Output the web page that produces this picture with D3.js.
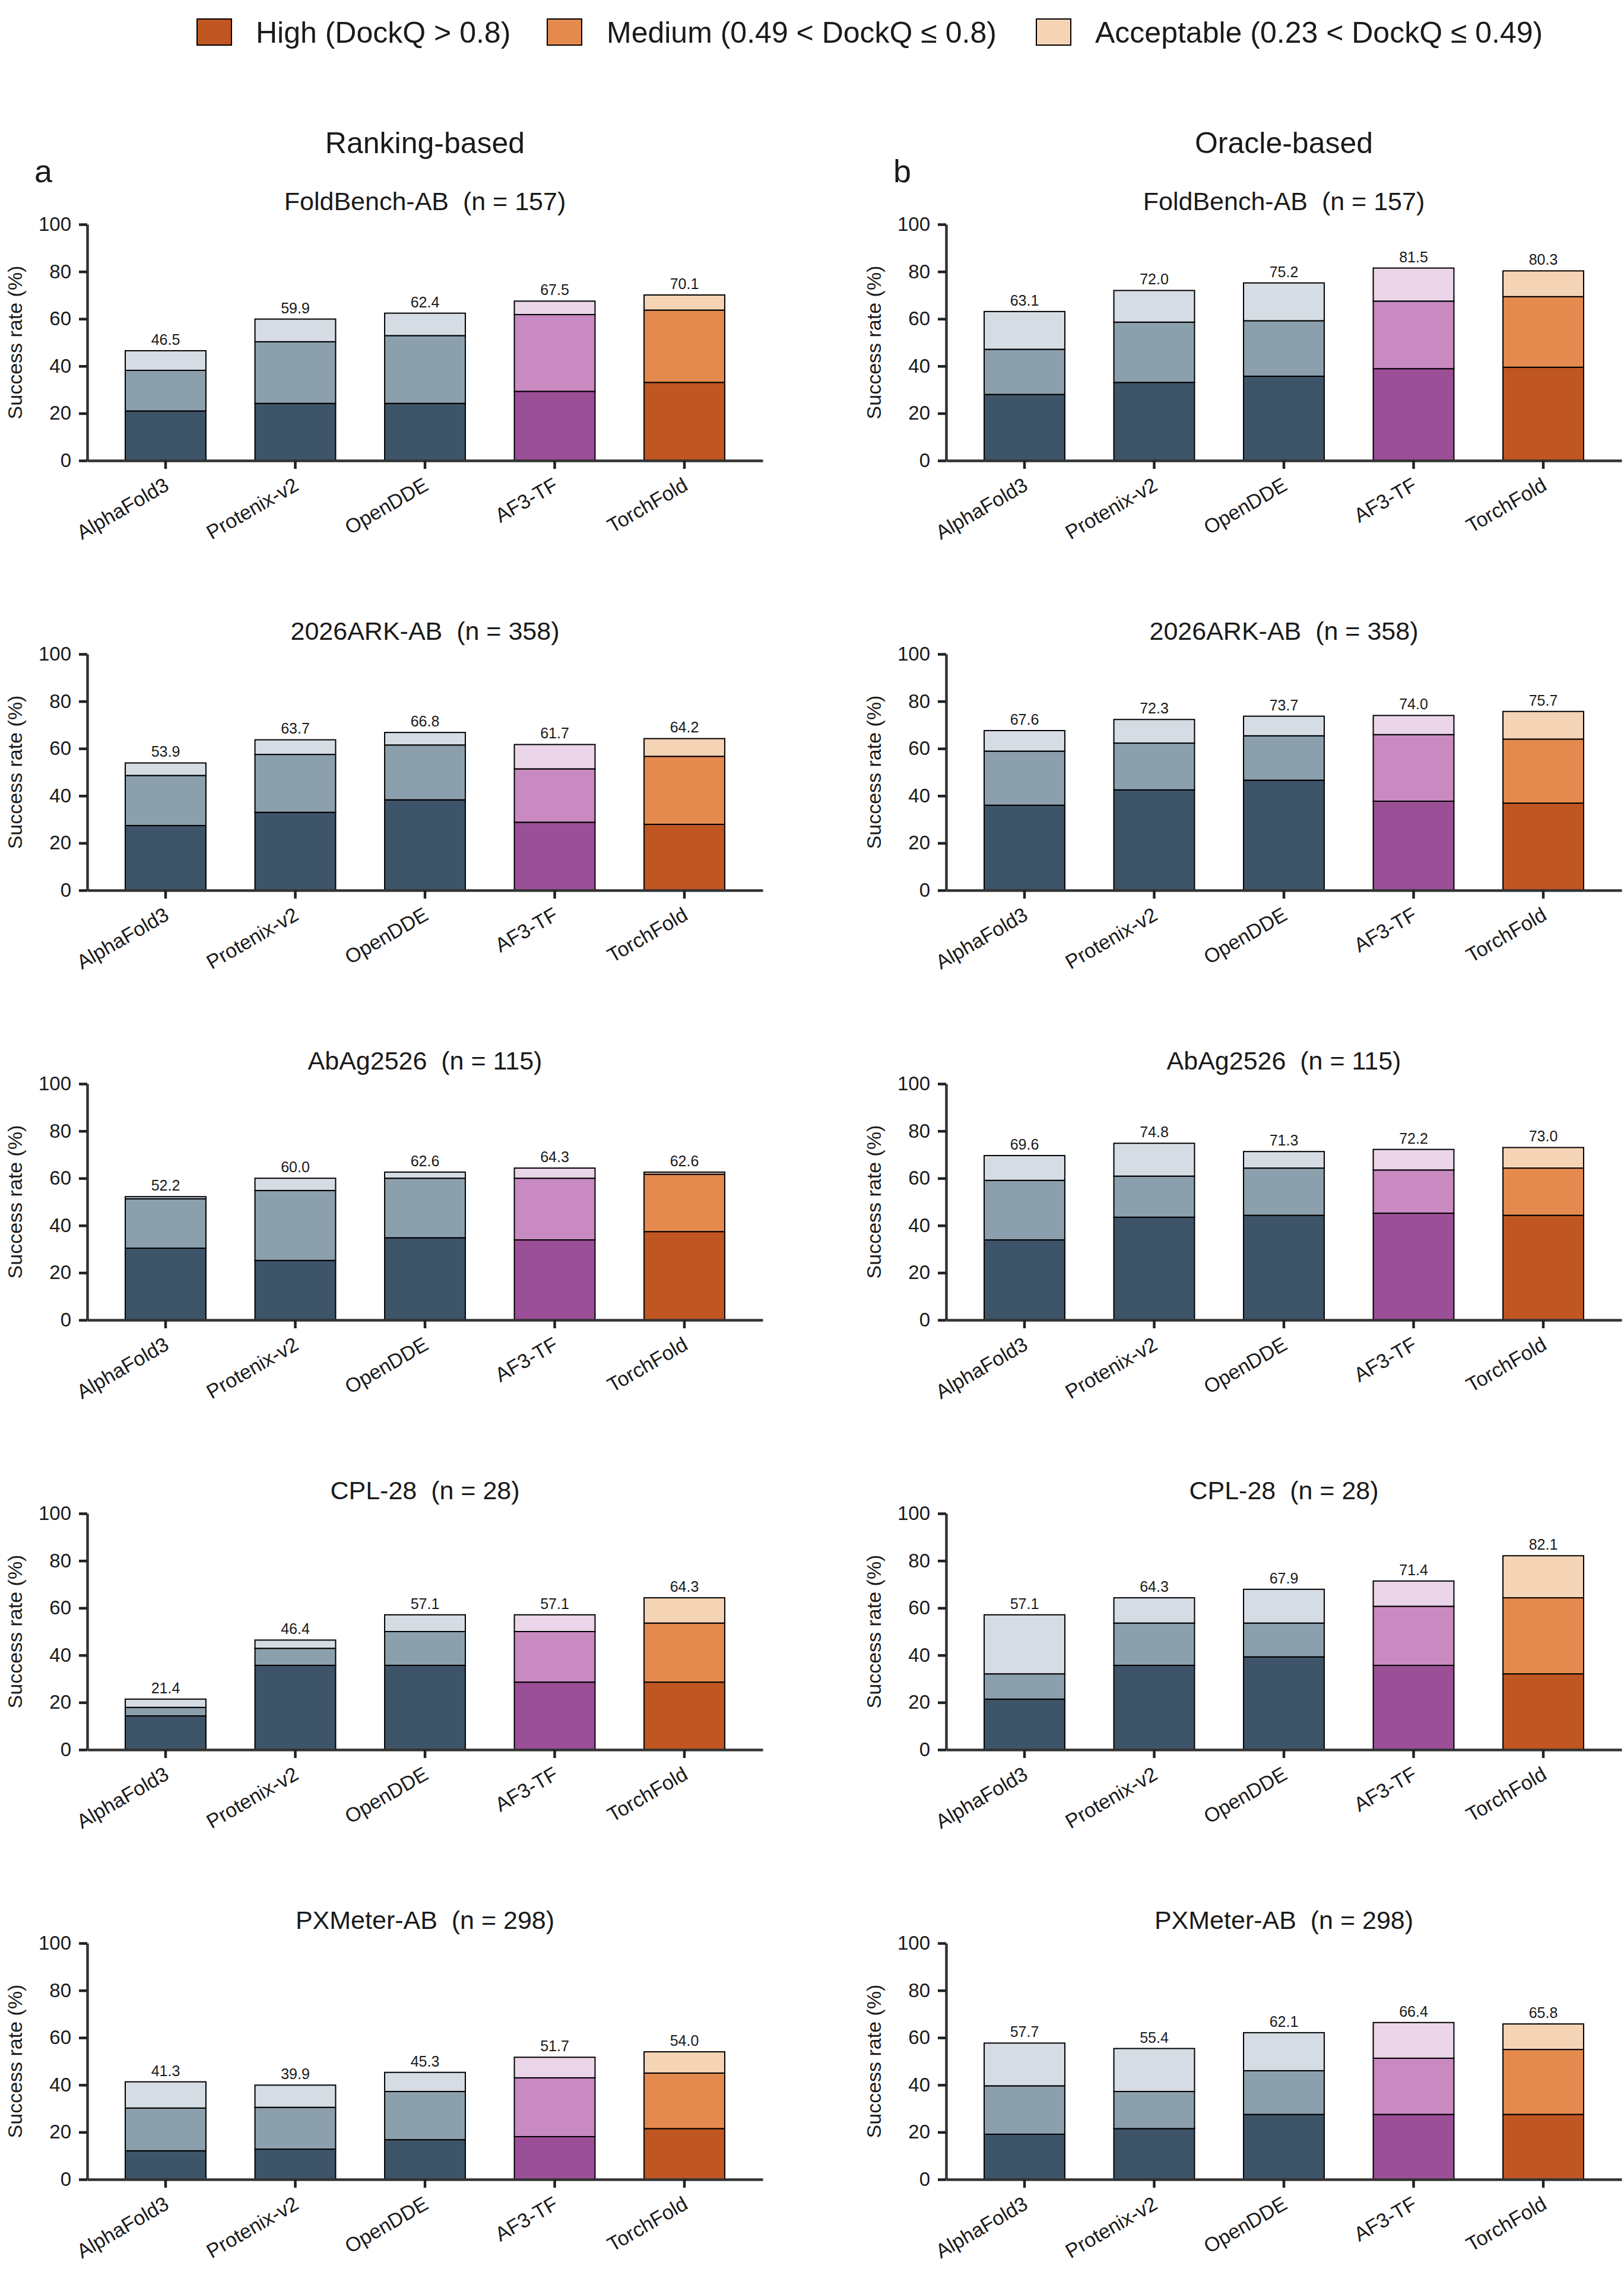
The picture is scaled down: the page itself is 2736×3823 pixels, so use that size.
<!DOCTYPE html>
<html lang="en">
<head>
  <meta charset="UTF-8">
  <title>DockQ success rates</title>
  <script src="https://cdn.jsdelivr.net/npm/d3@7"></script>
  <style>
    body { margin: 0; background: #fff; }
    text { font-family: "Liberation Sans", Arial, Helvetica, sans-serif; fill: #1a1a1a; }
  </style>
</head>
<body>
<div id="chart"></div>
<script>
  // --- data (percent) ---
  const models = ['AlphaFold3', 'Protenix-v2', 'OpenDDE', 'AF3-TF', 'TorchFold']
  const datasets = ['FoldBench-AB', '2026ARK-AB', 'AbAg2526', 'CPL-28', 'PXMeter-AB']
  const nCases = [157, 358, 115, 28, 298]
  const tiers = ['High (DockQ > 0.8)', 'Medium (0.49 < DockQ \u2264 0.8)', 'Acceptable (0.23 < DockQ \u2264 0.49)']
  const yTicks = [0, 20, 40, 60, 80, 100]

  // ranking-based: top of High, top of Medium (High + Medium), total (all three)
  const rankHigh = [
    [21.0, 24.2, 24.2, 29.3, 33.1],
    [27.4, 33.0, 38.3, 28.8, 27.9],
    [30.4, 25.2, 34.8, 33.9, 37.4],
    [14.3, 35.7, 35.7, 28.6, 28.6],
    [12.1, 12.8, 16.8, 18.1, 21.5]
  ]
  const rankUpToMedium = [
    [38.2, 50.3, 52.9, 61.8, 63.7],
    [48.6, 57.5, 61.5, 51.4, 56.7],
    [51.3, 54.8, 60.0, 60.0, 61.7],
    [17.9, 42.9, 50.0, 50.0, 53.6],
    [30.2, 30.5, 37.2, 43.0, 45.0]
  ]
  const rankTotal = [
    [46.5, 59.9, 62.4, 67.5, 70.1],
    [53.9, 63.7, 66.8, 61.7, 64.2],
    [52.2, 60.0, 62.6, 64.3, 62.6],
    [21.4, 46.4, 57.1, 57.1, 64.3],
    [41.3, 39.9, 45.3, 51.7, 54.0]
  ]

  // oracle-based
  const oracleHigh = [
    [28.0, 33.1, 35.7, 38.9, 39.5],
    [36.0, 42.5, 46.6, 37.7, 36.9],
    [33.9, 43.5, 44.3, 45.2, 44.3],
    [21.4, 35.7, 39.3, 35.7, 32.1],
    [19.1, 21.5, 27.5, 27.5, 27.5]
  ]
  const oracleUpToMedium = [
    [47.1, 58.6, 59.2, 67.5, 69.4],
    [58.9, 62.3, 65.4, 65.9, 64.0],
    [59.1, 60.9, 64.3, 63.5, 64.3],
    [32.1, 53.6, 53.6, 60.7, 64.3],
    [39.6, 37.2, 46.0, 51.3, 55.0]
  ]
  const oracleTotal = [
    [63.1, 72.0, 75.2, 81.5, 80.3],
    [67.6, 72.3, 73.7, 74.0, 75.7],
    [69.6, 74.8, 71.3, 72.2, 73.0],
    [57.1, 64.3, 67.9, 71.4, 82.1],
    [57.7, 55.4, 62.1, 66.4, 65.8]
  ]

  // --- styling ---
  const grayPal = ['#3e5468', '#8c9fad', '#d5dce3']
  const purplePal = ['#9b4f96', '#c98ac2', '#ebd5e8']
  const orangePal = ['#c05622', '#e58a4e', '#f5d4b6']
  const modelPal = [grayPal, grayPal, grayPal, purplePal, orangePal]

  const W = 2736, H = 3823
  const colX0 = [147, 1594]
  const plotW = 1138
  const plotH = 398
  const rowTop0 = 378
  const rowStep = 724

  const svg = d3.select('#chart').append('svg')
    .attr('width', W)
    .attr('height', H)

  // legend
  const legendX = [332, 922, 1746]
  const legendTextX = [431, 1022, 1845]
  const legend = svg.append('g')
  tiers.forEach(function(t, i) {
    legend.append('rect')
      .attr('x', legendX[i]).attr('y', 32)
      .attr('width', 58).attr('height', 44)
      .attr('fill', orangePal[i])
      .attr('stroke', '#000').attr('stroke-width', 2)
    legend.append('text')
      .attr('x', legendTextX[i]).attr('y', 72)
      .attr('font-size', 50)
      .text(t)
  })

  const panels = [
    { head: 'Ranking-based', letter: 'a', high: rankHigh, mid: rankUpToMedium, total: rankTotal },
    { head: 'Oracle-based', letter: 'b', high: oracleHigh, mid: oracleUpToMedium, total: oracleTotal }
  ]

  const y = d3.scaleLinear().domain([0, 100])
  const fmt = d3.format('.1f')

  panels.forEach(function(p, c) {
    const x0 = colX0[c]
    const cx = x0 + plotW / 2

    svg.append('text')
      .attr('x', cx).attr('y', 258)
      .attr('text-anchor', 'middle')
      .attr('font-size', 50)
      .text(p.head)

    svg.append('text')
      .attr('x', x0 - 89).attr('y', 307)
      .attr('font-size', 54)
      .text(p.letter)

    datasets.forEach(function(ds, r) {
      const top = rowTop0 + r * rowStep
      const bottom = top + plotH
      y.range([bottom, top])

      const x = d3.scaleBand()
        .domain(models)
        .range([x0, x0 + plotW])
        .paddingInner(0.378)
        .paddingOuter(0.293)

      const g = svg.append('g')

      g.append('text')
        .attr('x', cx).attr('y', top - 24)
        .attr('text-anchor', 'middle')
        .attr('font-size', 43)
        .style('white-space', 'pre')
        .text(ds + '  (n = ' + nCases[r] + ')')

      // stacked segments
      const rows = models.map(function(m, i) {
        return { model: m, i: i, levels: [0, p.high[r][i], p.mid[r][i], p.total[r][i]] }
      })

      rows.forEach(function(d) {
        const segs = [0, 1, 2].map(function(k) { return [d.levels[k], d.levels[k + 1], k] })
        g.selectAll(null)
          .data(segs)
          .enter()
          .append('rect')
          .attr('x', x(d.model))
          .attr('width', x.bandwidth())
          .attr('y', s => y(s[1]))
          .attr('height', s => Math.max(0, y(s[0]) - y(s[1])))
          .attr('fill', s => modelPal[d.i][s[2]])
          .attr('stroke', '#000')
          .attr('stroke-width', 2)
      })

      g.selectAll('.val')
        .data(rows)
        .enter()
        .append('text')
        .attr('class', 'val')
        .attr('x', d => x(d.model) + x.bandwidth() / 2)
        .attr('y', d => y(d.levels[3]) - 10)
        .attr('text-anchor', 'middle')
        .attr('font-size', 25)
        .text(d => fmt(d.levels[3]))

      // y axis
      const yAxis = g.append('g')
        .attr('transform', 'translate(' + x0 + ',0)')
        .call(d3.axisLeft(y).tickValues(yTicks).tickSize(14).tickSizeOuter(0).tickPadding(13))
      yAxis.select('.domain').attr('stroke', '#333').attr('stroke-width', 4.5)
      yAxis.selectAll('.tick line').attr('stroke', '#222').attr('stroke-width', 4.5)
      yAxis.selectAll('.tick text')
        .attr('font-size', 33)
        .attr('font-family', '"Liberation Sans", Arial, sans-serif')
        .attr('fill', '#1a1a1a')

      g.append('text')
        .attr('transform', 'translate(' + (x0 - 110) + ',' + (top + plotH / 2) + ') rotate(-90)')
        .attr('text-anchor', 'middle')
        .attr('font-size', 34)
        .attr('fill', '#222')
        .text('Success rate (%)')

      // x axis
      const xAxis = g.append('g')
        .attr('transform', 'translate(0,' + bottom + ')')
        .call(d3.axisBottom(x).tickSize(14).tickSizeOuter(0))
      xAxis.select('.domain').attr('stroke', '#333').attr('stroke-width', 4.5)
      xAxis.selectAll('.tick line').attr('stroke', '#222').attr('stroke-width', 4.5)
      xAxis.selectAll('.tick text')
        .attr('font-size', 34)
        .attr('font-family', '"Liberation Sans", Arial, sans-serif')
        .attr('fill', '#1a1a1a')
        .attr('text-anchor', 'end')
        .attr('y', 0)
        .attr('dy', 0)
        .attr('transform', 'translate(8,48) rotate(-30)')
    })
  })
</script>
</body>
</html>
